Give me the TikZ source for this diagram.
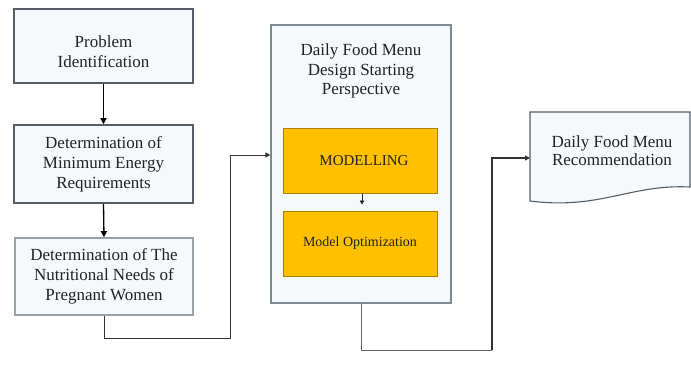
\documentclass[tikz,border=0pt]{standalone}
\usepackage{fontspec}
\setmainfont{Liberation Serif}
\usetikzlibrary{arrows.meta,calc}
\definecolor{boxfill}{HTML}{F6F9FC}
\definecolor{darkedge}{HTML}{555E68}
\definecolor{lightedge}{HTML}{9AA1A9}
\definecolor{bigedge}{HTML}{7E8994}
\definecolor{orangefill}{HTML}{FFC000}
\definecolor{orangeedge}{HTML}{A88000}
\definecolor{txt}{HTML}{222222}
\begin{document}
\begin{tikzpicture}[x=1pt,y=-1pt,
  stepbox/.style={draw=darkedge,line width=1.6pt,fill=boxfill,text=txt,align=center,
    font=\fontsize{17}{20}\selectfont,inner sep=0pt},
  orangebox/.style={draw=orangeedge,line width=1pt,fill=orangefill,text=txt,align=center,
    font=\fontsize{14}{17}\selectfont,inner sep=0pt,minimum width=154pt,minimum height=65pt},
  bigarrow/.style={draw=black,line width=1.3pt,-{Triangle[length=6pt,width=6pt]}},
  conn/.style={draw=black!80,line width=0.9pt,-{Triangle[length=5pt,width=5pt]}},
  plainline/.style={draw=black!60,line width=0.9pt},
  plaintext/.style={text=txt,align=center,font=\fontsize{17}{19.5}\selectfont,inner sep=0pt}
]
\useasboundingbox[fill=white] (0,0) rectangle (691,370);

% left column
\node[stepbox,minimum width=179pt,minimum height=74pt] (b1) at (103.5,46) {};
\node[plaintext,font=\fontsize{17}{20}\selectfont] (b1t) at ([yshift=-6pt]b1.center) {Problem\\Identification};
\node[stepbox,minimum width=179pt,minimum height=78pt] (b2) at (103.5,164) {Determination of\\Minimum Energy\\Requirements};
\node[stepbox,draw=lightedge,minimum width=178pt,minimum height=77pt] (b3) at (104,276.5) {Determination of The\\Nutritional Needs of\\Pregnant Women};

\draw[bigarrow] (b1.south) -- (b2.north);
\draw[bigarrow] (b2.south) -- (b3.north);

% big middle box
\node[draw=bigedge,line width=1.3pt,fill=boxfill,minimum width=180pt,minimum height=278pt,inner sep=0pt] (big) at (361,164) {};
\node[plaintext] (title) at (361,71) {Daily Food Menu\\Design Starting\\Perspective};
\node[orangebox] (m1) at (360,160.5) {\hspace*{8pt}\fontsize{15}{17}\selectfont MODELLING};
\node[orangebox] (m2) at (360,243.5) {Model Optimization};
\draw[draw=black!85,line width=0.8pt,-{Triangle[length=4pt,width=4.5pt]}] ([xshift=2pt]m1.south) -- ([xshift=2pt,yshift=6pt]m2.north);

% document shape
\coordinate (dnw) at (530,112);
\coordinate (dne) at (690,112);
\coordinate (dse) at (690,187);
\coordinate (dsw) at (530,201);
\draw[draw=darkedge,line width=1.1pt,fill=boxfill] (dnw) -- (dne) -- (dse)
  .. controls (630,184) and (600,210) .. (dsw) -- cycle;
\node[plaintext,font=\fontsize{17}{18}\selectfont] (doc) at (612,151) {Daily Food Menu\\Recommendation};

% connectors
\coordinate (c1) at (230,338);
\coordinate (c2) at (492,350);
\draw[conn] (b3.south) |- (c1) |- ([yshift=9pt]big.west);
\draw[plainline] (big.south) |- (c2);
\draw[conn,line width=1.1pt] (c2) |- (dnw |- 0,158);
\end{tikzpicture}
\end{document}
